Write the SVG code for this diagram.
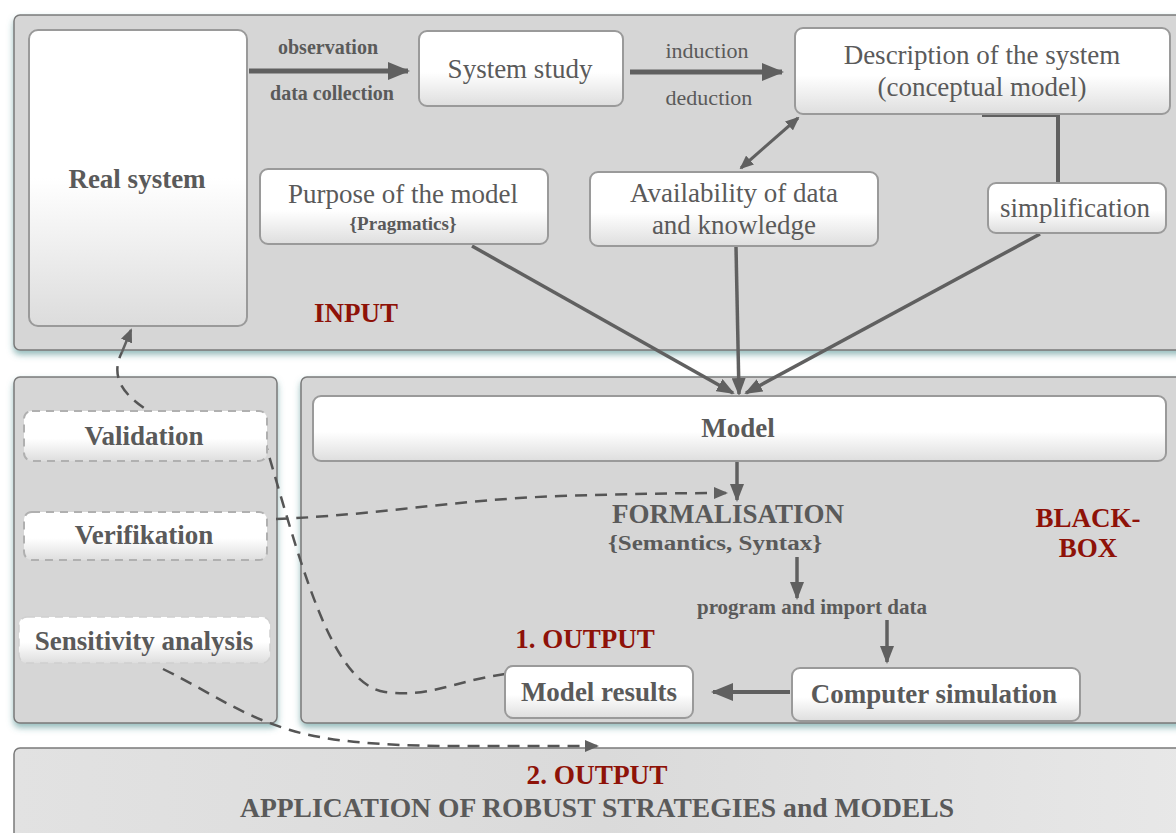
<svg xmlns="http://www.w3.org/2000/svg" width="1176" height="833" viewBox="0 0 1176 833">
  <style>
    .panel { fill: #d6d6d6; stroke: #7a7a7a; stroke-width: 1.5; filter: url(#glow); }
    .box { fill: url(#boxGrad); stroke: #9a9a9a; stroke-width: 2; }
    .dbox { fill: url(#boxGrad); stroke: #b0b0b0; stroke-width: 2; stroke-dasharray: 8 6; }
    .t { font-family: "Liberation Serif", "Times New Roman", serif; fill: #5a5a5a; text-anchor: middle; }
    .b { font-weight: bold; }
    .red { fill: #8e1208; font-weight: bold; }
    .line { fill: none; stroke: #606060; }
    .dash { fill: none; stroke: #555; stroke-width: 2.5; stroke-dasharray: 12 8; }
  </style>
  <defs>
    <linearGradient id="boxGrad" x1="0" y1="0" x2="0" y2="1">
      <stop offset="0" stop-color="#ffffff"/>
      <stop offset="0.55" stop-color="#ffffff"/>
      <stop offset="1" stop-color="#dedede"/>
    </linearGradient>
    <linearGradient id="realGrad" x1="0" y1="0" x2="0" y2="1">
      <stop offset="0" stop-color="#ffffff"/>
      <stop offset="0.5" stop-color="#ffffff"/>
      <stop offset="1" stop-color="#dcdcdc"/>
    </linearGradient>
    <linearGradient id="footGrad" x1="0" y1="0" x2="1" y2="0">
      <stop offset="0" stop-color="#e2e2e2"/>
      <stop offset="0.5" stop-color="#dadada"/>
      <stop offset="1" stop-color="#e8e8e8"/>
    </linearGradient>
    <filter id="glow" x="-5%" y="-5%" width="110%" height="120%">
      <feDropShadow dx="0" dy="4" stdDeviation="3" flood-color="#3f8585" flood-opacity="0.55"/>
    </filter>
    <marker id="bigHead" viewBox="0 0 22 18" refX="20" refY="9" markerWidth="22" markerHeight="18" markerUnits="userSpaceOnUse" orient="auto">
      <path d="M0,0 L22,9 L0,18 Z" fill="#606060"/>
    </marker>
    <marker id="midHead" viewBox="0 0 18 14" refX="16" refY="7" markerWidth="18" markerHeight="14" markerUnits="userSpaceOnUse" orient="auto">
      <path d="M0,0 L18,7 L0,14 Z" fill="#606060"/>
    </marker>
    <marker id="smallHead" viewBox="0 0 14 12" refX="12" refY="6" markerWidth="14" markerHeight="12" markerUnits="userSpaceOnUse" orient="auto-start-reverse">
      <path d="M0,0 L14,6 L0,12 Z" fill="#606060"/>
    </marker>
  </defs>

  <rect width="1176" height="833" fill="#ffffff"/>

  <!-- panels -->
  <g id="panel-input"><rect class="panel" x="14" y="15" width="1180" height="335" rx="6"/></g>
  <g id="panel-checks"><rect class="panel" x="14" y="377" width="263" height="346" rx="6"/></g>
  <g id="panel-blackbox"><rect class="panel" x="301" y="377" width="890" height="346" rx="6"/></g>
  <g id="panel-output2"><rect x="14" y="748" width="1180" height="100" rx="6" fill="url(#footGrad)" stroke="#7a7a7a" stroke-width="1.5"/></g>

  <!-- connectors -->
  <g id="connectors">
    <line class="line" x1="249" y1="71" x2="408" y2="71" stroke-width="5" marker-end="url(#bigHead)"/>
    <line class="line" x1="630" y1="72" x2="782" y2="72" stroke-width="5" marker-end="url(#bigHead)"/>
    <polyline class="line" points="982,115 1058,115 1058,183" stroke-width="4"/>
    <line class="line" x1="741" y1="168" x2="798" y2="118" stroke-width="3" marker-start="url(#smallHead)" marker-end="url(#smallHead)"/>
    <line class="line" x1="472" y1="246" x2="733" y2="393" stroke-width="3.5" marker-end="url(#midHead)"/>
    <line class="line" x1="736" y1="247" x2="739" y2="394" stroke-width="3.5" marker-end="url(#midHead)"/>
    <line class="line" x1="1040" y1="234" x2="746" y2="393" stroke-width="3.5" marker-end="url(#midHead)"/>
    <line class="line" x1="737" y1="462" x2="737" y2="500" stroke-width="3.5" marker-end="url(#midHead)"/>
    <line class="line" x1="797" y1="557" x2="797" y2="598" stroke-width="3.5" marker-end="url(#midHead)"/>
    <line class="line" x1="887" y1="620" x2="887" y2="662" stroke-width="3.5" marker-end="url(#midHead)"/>
    <line class="line" x1="790" y1="692" x2="713" y2="692" stroke-width="4" marker-end="url(#bigHead)"/>
    <!-- validation loop back to the real system -->
    <path class="dash" d="M505,674 C450,682 430,698 385,692 C330,684 300,560 262,432 L150,412 C128,398 108,380 122,352"/>
    <line class="line" x1="122" y1="352" x2="131" y2="330" stroke-width="2.5" marker-end="url(#smallHead)"/>
    <!-- verification to formalisation -->
    <path class="dash" d="M276,519 C380,515 450,500 560,496 C620,494 680,493 726,493" marker-end="url(#smallHead)"/>
    <!-- sensitivity analysis to second output -->
    <path class="dash" d="M163,669 C210,692 240,715 290,730 C330,742 380,745 440,746 L597,746" marker-end="url(#smallHead)"/>
  </g>

  <!-- input nodes -->
  <g id="real-system">
    <rect x="29" y="30" width="218" height="296" rx="9" fill="url(#realGrad)" stroke="#9a9a9a" stroke-width="2"/>
    <text class="t b" x="137" y="188" font-size="27">Real system</text>
  </g>
  <g id="lbl-observation">
    <text class="t b" x="328" y="54" font-size="20">observation</text>
    <text class="t b" x="332" y="100" font-size="20">data collection</text>
  </g>
  <g id="system-study">
    <rect class="box" x="419" y="31" width="204" height="75" rx="8"/>
    <text class="t" x="520" y="78" font-size="27">System study</text>
  </g>
  <g id="lbl-induction">
    <text class="t" x="707" y="58" font-size="22">induction</text>
    <text class="t" x="709" y="105" font-size="22">deduction</text>
  </g>
  <g id="description">
    <rect class="box" x="795" y="28" width="375" height="86" rx="8"/>
    <text class="t" x="982" y="64" font-size="27">Description of the system</text>
    <text class="t" x="982" y="96" font-size="27">(conceptual model)</text>
  </g>
  <g id="simplification">
    <rect class="box" x="988" y="183" width="178" height="50" rx="8"/>
    <text class="t" x="1075" y="217" font-size="27">simplification</text>
  </g>
  <g id="purpose">
    <rect class="box" x="260" y="169" width="288" height="75" rx="8"/>
    <text class="t" x="403" y="203" font-size="27">Purpose of the model</text>
    <text class="t b" x="403" y="230" font-size="19">{Pragmatics}</text>
  </g>
  <g id="availability">
    <rect class="box" x="590" y="172" width="288" height="74" rx="8"/>
    <text class="t" x="734" y="202" font-size="27">Availability of data</text>
    <text class="t" x="734" y="234" font-size="27">and knowledge</text>
  </g>
  <g id="lbl-input"><text class="t red" x="356" y="322" font-size="27">INPUT</text></g>

  <!-- check nodes -->
  <g id="validation">
    <rect class="dbox" x="24" y="411" width="243" height="50" rx="8"/>
    <text class="t b" x="144" y="445" font-size="27">Validation</text>
  </g>
  <g id="verifikation">
    <rect class="dbox" x="24" y="512" width="243" height="48" rx="8"/>
    <text class="t b" x="144" y="544" font-size="27">Verifikation</text>
  </g>
  <g id="sensitivity">
    <rect x="19" y="617" width="251" height="46" rx="8" fill="url(#boxGrad)" stroke="#d0d0d0" stroke-width="1.5" stroke-dasharray="8 6"/>
    <text class="t b" x="144" y="650" font-size="27">Sensitivity analysis</text>
  </g>

  <!-- black-box nodes -->
  <g id="model">
    <rect class="box" x="313" y="396" width="853" height="65" rx="8"/>
    <text class="t b" x="738" y="437" font-size="27">Model</text>
  </g>
  <g id="formalisation">
    <text class="t b" x="728" y="523" font-size="27" fill="#777">FORMALISATION</text>
    <text class="t b" x="715" y="550" font-size="20" textLength="214" lengthAdjust="spacingAndGlyphs">{Semantics, Syntax}</text>
  </g>
  <g id="lbl-program"><text class="t b" x="812" y="614" font-size="21">program and import data</text></g>
  <g id="lbl-output1"><text class="t red" x="585" y="648" font-size="27">1. OUTPUT</text></g>
  <g id="lbl-blackbox">
    <text class="t red" x="1088" y="527" font-size="27">BLACK-</text>
    <text class="t red" x="1088" y="557" font-size="27">BOX</text>
  </g>
  <g id="model-results">
    <rect class="box" x="505" y="666" width="188" height="52" rx="8"/>
    <text class="t b" x="599" y="701" font-size="27">Model results</text>
  </g>
  <g id="computer-simulation">
    <rect class="box" x="792" y="668" width="288" height="53" rx="8"/>
    <text class="t b" x="934" y="703" font-size="27">Computer simulation</text>
  </g>

  <!-- second output -->
  <g id="output2">
    <text class="t red" x="597" y="784" font-size="27" textLength="141" lengthAdjust="spacingAndGlyphs">2. OUTPUT</text>
    <text class="t b" x="597" y="817" font-size="27" fill="#777" textLength="714" lengthAdjust="spacingAndGlyphs">APPLICATION OF ROBUST STRATEGIES and MODELS</text>
  </g>
</svg>
